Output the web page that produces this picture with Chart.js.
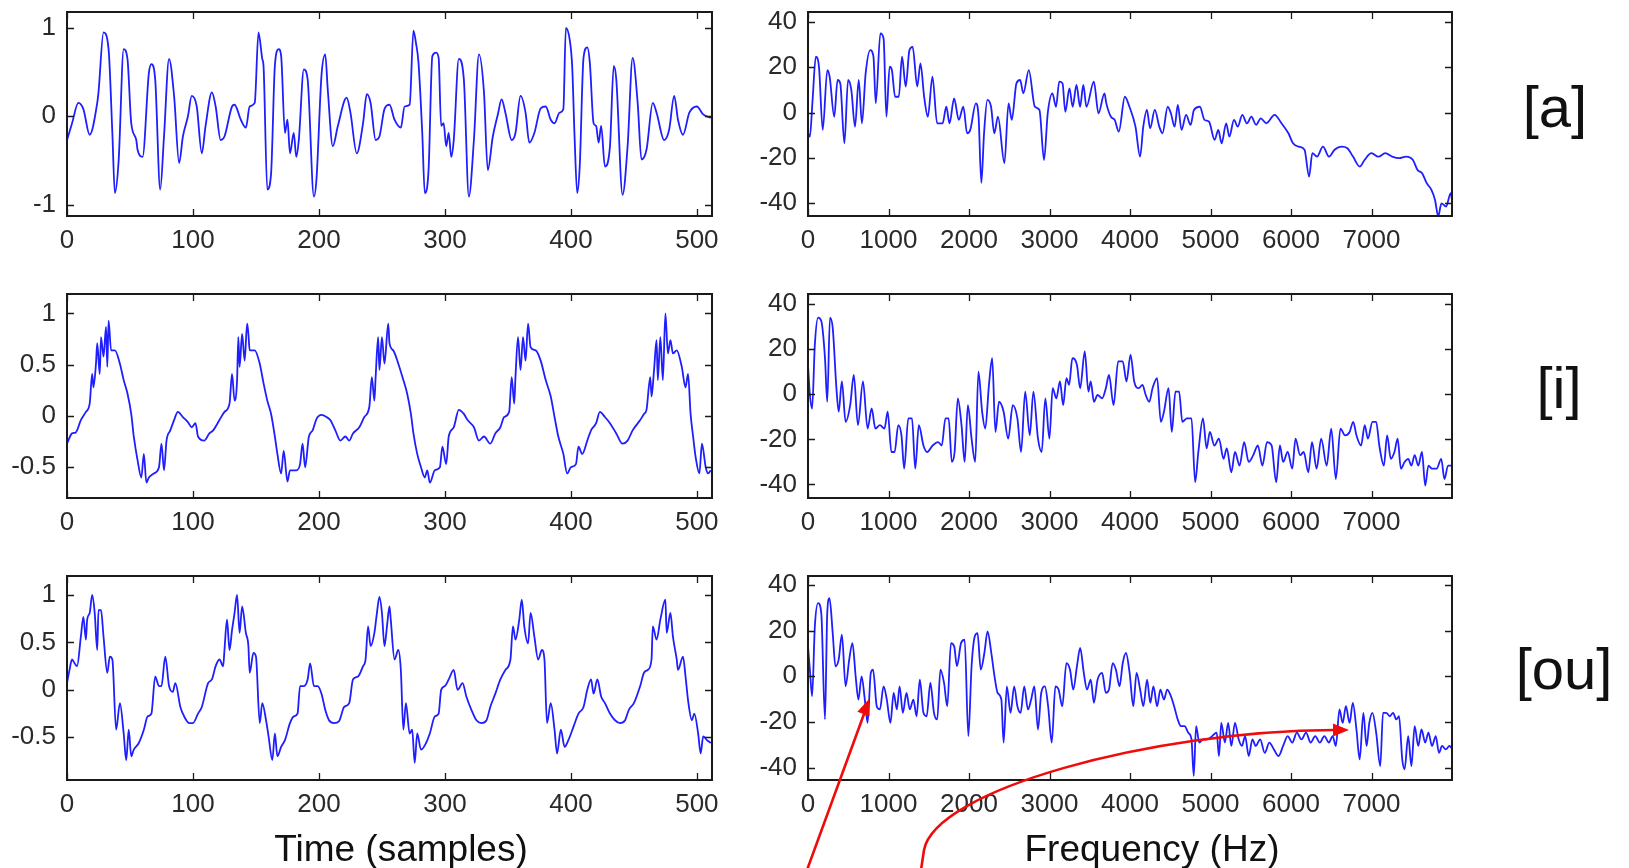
<!DOCTYPE html>
<html>
<head>
<meta charset="utf-8">
<script src="https://cdn.jsdelivr.net/npm/chart.js@4.4.1/dist/chart.umd.min.js"></script>
<style>
  body { margin: 0; background: #fff; width: 1629px; height: 868px; overflow: hidden; position: relative; font-family: "Liberation Sans", Arial, sans-serif; }
  canvas { position: absolute; }
  .lbl { position: absolute; color: #111; white-space: nowrap; transform: translateX(-50%); }
  .axt { font-size: 37px; line-height: 37px; top: 830px; }
  .vow { font-size: 58px; line-height: 58px; }
</style>
</head>
<body>
<canvas id="aWave" width="730" height="266" style="left:0;top:0"></canvas>
<canvas id="aSpec" width="730" height="266" style="left:740px;top:0"></canvas>
<canvas id="iWave" width="730" height="265" style="left:0;top:282px"></canvas>
<canvas id="iSpec" width="730" height="265" style="left:740px;top:282px"></canvas>
<canvas id="ouWave" width="730" height="304" style="left:0;top:564px"></canvas>
<canvas id="ouSpec" width="730" height="304" style="left:740px;top:564px"></canvas>
<div class="lbl axt" style="left:401px">Time (samples)</div>
<div class="lbl axt" style="left:1152px">Frequency (Hz)</div>
<div class="lbl vow" style="left:1555px;top:78px">[a]</div>
<div class="lbl vow" style="left:1559px;top:359px">[i]</div>
<div class="lbl vow" style="left:1564px;top:640px">[ou]</div>
<canvas id="arrows" width="1629" height="868" style="left:0;top:0;pointer-events:none"></canvas>
<script>
// tick values
const timeTicks = [0, 100, 200, 300, 400, 500];
const freqTicks = [0, 1000, 2000, 3000, 4000, 5000, 6000, 7000];
const dbTicks = [-40, -20, 0, 20, 40];
const unitTicks = [-1, 0, 1];
const halfTicks = [-0.5, 0, 0.5, 1];

// [a] waveform (sample, amplitude)
const aWave = [[0,-0.27],[4,-0.08],[9,0.15],[13,0.08],[18,-0.21],[24,0.15],[25,0.27],[29,0.95],[33,0.76],[36,-0.19],
  [38,-0.87],[41,-0.5],[45,0.76],[48,0.65],[51,-0.08],[55,-0.27],[56,-0.38],[60,-0.46],[65,0.49],[67,0.59],
  [70,0.42],[74,-0.83],[77,-0.23],[81,0.65],[85,0.23],[89,-0.53],[92,-0.23],[96,0],[99,0.23],[103,0.11],
  [107,-0.42],[110,-0.11],[115,0.27],[118,0.11],[122,-0.27],[125,-0.23],[131,0.11],[133,0.13],[138,-0.04],[142,-0.13],
  [145,0.11],[149,0.15],[152,0.95],[155,0.65],[156,0.57],[159,-0.83],[162,-0.65],[165,0.57],[168,0.76],[170,0.68],
  [173,-0.19],[175,-0.04],[177,-0.42],[180,-0.19],[182,-0.46],[184,-0.27],[188,0.53],[191,0.42],[196,-0.91],[198,-0.72],
  [202,0.46],[205,0.7],[207,0.3],[211,-0.34],[215,-0.11],[222,0.21],[225,0.04],[230,-0.42],[235,-0.08],[238,0.25],
  [241,0.15],[245,-0.27],[248,-0.23],[252,0.08],[256,0.13],[260,-0.04],[265,-0.13],[268,0.11],[272,0.13],[275,0.97],
  [277,0.83],[279,0.61],[282,-0.19],[284,-0.87],[287,-0.61],[290,0.68],[293,0.72],[295,0.66],[297,-0.11],[299,-0.08],
  [301,-0.34],[303,-0.19],[305,-0.46],[307,-0.27],[311,0.65],[315,0.42],[319,-0.91],[323,-0.27],[327,0.7],[331,0.27],
  [334,-0.61],[338,-0.23],[342,0.02],[345,0.19],[348,0.04],[353,-0.27],[356,-0.19],[360,0.23],[364,0.04],[367,-0.3],
  [371,-0.19],[376,0.09],[380,0.11],[384,-0.04],[387,-0.08],[391,0.04],[394,0.08],[396,1.0],[399,0.87],[401,0.57],
  [403,-0.27],[405,-0.87],[407,-0.57],[410,0.66],[413,0.78],[415,0.61],[418,-0.08],[420,-0.11],[422,-0.3],[424,-0.11],
  [427,-0.57],[431,-0.34],[434,0.57],[436,0.42],[441,-0.89],[445,-0.34],[449,0.66],[453,0.15],[456,-0.49],[460,-0.38],
  [465,0.15],[468,0.04],[474,-0.27],[478,-0.15],[482,0.23],[485,-0.04],[489,-0.21],[494,0.04],[500,0.11],[505,0.02],[511,-0.02]];

// [a] spectrum (Hz, dB)
const aSpec = [[0,-9],[23,-10.6],[57,5.6],[97,24.7],[137,20],[183,-7.6],[240,18.8],[269,15.9],[326,-1.8],[367,14.4],
  [401,12.9],[452,-13.5],[498,14.4],[538,10],[584,-6.2],[630,14.4],[670,-4.7],[716,17.3],[773,27.6],[813,24.7],
  [842,4.1],[899,35],[939,32.7],[974,-1.8],[1014,20.3],[1042,18.8],[1082,7],[1128,7],[1168,24.7],[1214,11.5],
  [1260,27.6],[1300,29],[1357,11.5],[1397,21.7],[1443,7],[1489,-1.8],[1546,15.9],[1604,-4.7],[1672,-4.7],[1718,2.6],
  [1758,-4.7],[1815,6.3],[1873,-3.2],[1930,2.6],[1976,-9.1],[2016,-7.6],[2085,4.1],[2119,-1.8],[2153,-31],[2187,-9.1],
  [2228,5.6],[2274,2.6],[2314,-9.1],[2360,-1.8],[2440,-22.3],[2491,4.1],[2532,-3.2],[2589,12.9],[2635,14.4],[2675,8.5],
  [2743,18.8],[2818,2.6],[2875,1.2],[2932,-20.9],[2978,-0.3],[3036,8.5],[3081,2.6],[3121,13.7],[3162,12.9],[3196,0.4],
  [3248,10.7],[3288,2.6],[3335,12.2],[3380,2.6],[3420,12.2],[3459,2.6],[3551,13.7],[3608,-0.3],[3683,8.5],[3706,4.1],
  [3763,-1.8],[3810,-3.2],[3861,-8.4],[3936,7],[3993,2.6],[4068,-6.2],[4125,-19.4],[4165,-6.2],[4210,1.2],[4250,-6.9],
  [4308,1.2],[4364,-6.2],[4404,-9.1],[4468,2.6],[4508,-0.3],[4554,-6.2],[4594,3.4],[4640,-7.6],[4697,-1],[4753,-5.4],
  [4794,1.2],[4868,2.6],[4925,-3.2],[4982,-4],[5051,-12],[5097,-7.6],[5138,-13.5],[5195,-4.7],[5234,-10.6],[5292,-3.2],
  [5338,-6.2],[5395,-1],[5452,-4.7],[5508,-1.8],[5566,-5.4],[5624,-2.5],[5693,-4.7],[5796,-1],[5882,-4.7],[5968,-9.1],
  [6025,-13.5],[6094,-15],[6168,-16.4],[6225,-28.2],[6265,-17.9],[6323,-19.4],[6397,-15],[6472,-19.4],[6541,-16.4],[6627,-15],
  [6701,-15.7],[6770,-19.4],[6856,-23.8],[6913,-20.9],[7000,-17.9],[7085,-19.4],[7171,-17.9],[7257,-19.4],[7343,-20.1],[7429,-19.4],
  [7515,-20.9],[7572,-25.3],[7629,-26.7],[7686,-31.1],[7743,-34],[7789,-38.5],[7829,-45.8],[7869,-40],[7927,-41.4],[7984,-35.5],[8000,-38.5]];

// [i] waveform
const iWave = [[0,-0.27],[4,-0.17],[7,-0.16],[11,-0.04],[15,0.04],[18,0.12],[20,0.41],[21,0.28],[23,0.51],[24,0.71],
  [26,0.41],[27,0.77],[29,0.58],[31,0.87],[32,0.48],[33,0.93],[35,0.64],[38,0.64],[42,0.51],[45,0.35],
  [48,0.22],[51,0.02],[53,-0.2],[56,-0.43],[59,-0.6],[61,-0.37],[63,-0.65],[65,-0.6],[69,-0.56],[73,-0.5],
  [75,-0.27],[77,-0.53],[79,-0.24],[82,-0.14],[85,-0.04],[88,0.04],[92,-0.01],[96,-0.06],[99,-0.11],[102,-0.07],
  [104,-0.2],[109,-0.24],[113,-0.17],[116,-0.14],[121,-0.04],[125,0.04],[129,0.12],[131,0.41],[133,0.15],[135,0.35],
  [136,0.77],[137,0.48],[139,0.8],[141,0.54],[143,0.9],[144,0.8],[145,0.64],[149,0.64],[153,0.51],[156,0.32],
  [159,0.15],[162,0.02],[165,-0.2],[167,-0.37],[170,-0.56],[172,-0.34],[175,-0.64],[177,-0.53],[182,-0.53],[185,-0.47],
  [187,-0.27],[189,-0.5],[192,-0.2],[195,-0.14],[198,-0.03],[202,0.01],[206,-0.01],[209,-0.04],[213,-0.14],[217,-0.24],
  [221,-0.2],[224,-0.24],[227,-0.17],[232,-0.11],[236,-0.01],[240,0.09],[242,0.38],[244,0.15],[245,0.38],[247,0.77],
  [248,0.45],[250,0.77],[252,0.51],[255,0.9],[256,0.71],[259,0.64],[263,0.51],[267,0.35],[270,0.22],[273,0.02],
  [275,-0.17],[278,-0.37],[281,-0.5],[284,-0.6],[286,-0.53],[288,-0.65],[292,-0.53],[296,-0.5],[298,-0.3],[301,-0.47],
  [303,-0.2],[307,-0.11],[311,0.06],[315,0.02],[318,-0.04],[323,-0.11],[327,-0.24],[331,-0.2],[336,-0.27],[340,-0.17],
  [344,-0.11],[347,-0.01],[351,0.04],[353,0.38],[355,0.12],[356,0.38],[358,0.77],[360,0.45],[362,0.77],[364,0.54],
  [366,0.9],[368,0.67],[372,0.64],[376,0.54],[380,0.35],[384,0.19],[387,-0.01],[390,-0.2],[394,-0.37],[397,-0.56],
  [400,-0.5],[404,-0.47],[406,-0.3],[409,-0.37],[413,-0.24],[416,-0.14],[420,-0.07],[423,0.04],[427,-0.01],[431,-0.07],
  [436,-0.17],[441,-0.27],[445,-0.24],[449,-0.14],[455,-0.04],[458,0.02],[460,0.06],[463,0.38],[464,0.19],[466,0.45],
  [468,0.74],[469,0.35],[471,0.77],[473,0.35],[475,1.0],[477,0.61],[479,0.74],[481,0.61],[484,0.64],[488,0.48],
  [491,0.28],[493,0.41],[495,0.02],[497,-0.2],[499,-0.4],[502,-0.56],[504,-0.27],[507,-0.5],[509,-0.56],[511,-0.53]];

// [i] spectrum
const iSpec = [[0,13],[23,0],[51,-6.3],[85,22],[125,34],[165,32.5],[211,16],[239,-3.3],[273,34],[307,29.5],
  [353,2.7],[381,-7.7],[421,5.7],[467,-12.2],[524,-4.8],[569,8.6],[620,-13.7],[683,5.7],[740,-15.2],[791,-6.3],
  [837,-15.2],[893,-13.7],[950,-15.2],[990,-7.7],[1036,-25.6],[1076,-25.6],[1121,-13.7],[1161,-18.2],[1195,-33],[1246,-10.7],
  [1292,-10.7],[1332,-33],[1377,-13.7],[1434,-22.7],[1480,-25.6],[1548,-22.7],[1616,-21.2],[1662,-22.7],[1707,-10.7],[1747,-10.7],
  [1787,-30],[1821,-25.6],[1861,-1.8],[1907,-13.7],[1946,-30],[1986,-4.8],[2032,-19.7],[2077,-30],[2117,10.1],[2163,-7.7],
  [2202,-15.2],[2248,4.2],[2288,16],[2328,-16.7],[2373,-3.3],[2430,-7.7],[2487,-19.7],[2544,-4.8],[2601,-10.7],[2647,-25.6],
  [2698,1.2],[2755,-18.2],[2800,1.2],[2857,-19.7],[2903,-25.6],[2948,-1.8],[2999,-19.7],[3039,2.7],[3085,-1.8],[3130,5.7],
  [3170,-4.8],[3210,7.2],[3244,4.2],[3284,16],[3341,13],[3381,2.7],[3438,19],[3483,1.2],[3512,5.7],[3552,-3.3],
  [3597,-0.3],[3654,-1.8],[3700,2.7],[3739,8.6],[3796,-4.8],[3853,14.6],[3910,14.6],[3956,5.7],[4007,17.6],[4052,5.7],
  [4109,2.7],[4155,4.2],[4195,-0.3],[4240,-3.3],[4280,2.7],[4337,7.2],[4383,-12.2],[4422,-7.7],[4479,2.7],[4519,-16.7],
  [4565,1.2],[4610,1.2],[4650,-12.2],[4707,-10.7],[4764,-10.7],[4809,-39],[4849,-25.6],[4906,-10.7],[4952,-24],[4992,-16.7],
  [5048,-22.7],[5105,-19.7],[5162,-28.6],[5202,-24],[5259,-34.6],[5304,-25.6],[5361,-31.6],[5418,-21.2],[5475,-30],[5531,-27],
  [5588,-22.7],[5645,-31.6],[5702,-21.2],[5759,-22.7],[5816,-39],[5862,-22.7],[5902,-30],[5959,-25.6],[6016,-33],[6056,-19.7],
  [6113,-27],[6158,-25.6],[6215,-34.6],[6261,-21.2],[6318,-33],[6375,-19.7],[6443,-31.6],[6500,-15.2],[6557,-37.6],[6614,-15.2],
  [6671,-18.2],[6728,-16.7],[6773,-12.2],[6813,-18.2],[6870,-22.7],[6916,-13.7],[6955,-19.7],[7012,-12.2],[7058,-12.2],[7097,-22.7],
  [7154,-31.6],[7194,-18.2],[7240,-28.6],[7285,-25.6],[7325,-19.7],[7365,-33],[7411,-30],[7456,-28.6],[7496,-31.6],[7536,-27],
  [7581,-31.6],[7627,-25.6],[7667,-40.5],[7707,-31.6],[7752,-33],[7809,-33],[7866,-28.6],[7906,-37.6],[7951,-31.6],[7991,-31.6]];

// [ou] waveform
const ouWave = [[0,0.07],[2,0.21],[4,0.32],[6,0.28],[8,0.25],[11,0.56],[13,0.77],[15,0.53],[16,0.74],[18,0.81],
  [20,1.0],[22,0.81],[24,0.42],[25,0.84],[27,0.84],[29,0.56],[32,0.18],[34,0.35],[36,0.32],[39,-0.42],
  [42,-0.14],[45,-0.46],[47,-0.74],[49,-0.42],[51,-0.7],[53,-0.63],[57,-0.56],[61,-0.42],[64,-0.28],[67,-0.25],
  [70,0.14],[73,0.04],[75,0.04],[78,0.35],[81,0.04],[84,-0.02],[86,0.07],[90,-0.18],[93,-0.28],[97,-0.35],
  [100,-0.35],[104,-0.25],[107,-0.18],[112,0.07],[115,0.11],[118,0.25],[121,0.32],[124,0.25],[125,0.42],[127,0.74],
  [129,0.42],[131,0.63],[133,0.81],[135,1.0],[137,0.6],[139,0.88],[142,0.6],[144,0.46],[145,0.18],[148,0.39],
  [150,0.35],[153,-0.35],[155,-0.14],[158,-0.32],[160,-0.49],[163,-0.74],[165,-0.46],[167,-0.7],[170,-0.6],[173,-0.53],
  [177,-0.35],[180,-0.28],[183,-0.25],[185,0.04],[188,0.04],[191,0.11],[193,0.28],[196,0.04],[199,0.04],[202,-0.04],
  [205,-0.21],[208,-0.32],[212,-0.35],[216,-0.33],[220,-0.18],[224,-0.14],[227,0.11],[231,0.14],[235,0.25],[237,0.32],
  [239,0.67],[241,0.46],[244,0.6],[246,0.81],[248,0.98],[250,0.81],[252,0.46],[254,0.67],[256,0.88],[257,0.74],
  [260,0.32],[263,0.42],[265,0.21],[267,-0.42],[269,-0.14],[272,-0.46],[274,-0.42],[276,-0.77],[278,-0.46],[281,-0.63],
  [285,-0.56],[288,-0.46],[292,-0.28],[295,-0.25],[297,0],[300,0.04],[303,0.11],[307,0.21],[310,0],[314,0.07],
  [317,-0.07],[321,-0.21],[325,-0.32],[329,-0.35],[333,-0.32],[336,-0.18],[340,-0.04],[344,0.11],[348,0.21],[352,0.32],
  [354,0.67],[356,0.53],[359,0.74],[361,0.95],[363,0.67],[366,0.49],[368,0.81],[371,0.56],[374,0.32],[377,0.42],
  [379,0.32],[381,-0.35],[384,-0.14],[387,-0.42],[389,-0.67],[392,-0.42],[395,-0.6],[398,-0.53],[402,-0.39],[406,-0.25],
  [410,-0.18],[413,0],[416,0.11],[418,-0.04],[421,0.11],[424,-0.07],[427,-0.14],[431,-0.25],[435,-0.32],[439,-0.35],
  [443,-0.32],[446,-0.21],[450,-0.14],[455,0.04],[458,0.18],[461,0.21],[464,0.32],[465,0.67],[468,0.53],[471,0.74],
  [475,0.95],[476,0.6],[479,0.81],[481,0.56],[484,0.32],[485,0.21],[489,0.35],[491,0.14],[493,-0.11],[496,-0.32],
  [498,-0.25],[501,-0.46],[503,-0.67],[505,-0.49],[508,-0.53],[511,-0.56]];

// [ou] spectrum
const ouSpec = [[0,13],[23,2.9],[51,-8.7],[85,21.8],[125,32],[165,27.6],[211,-18.9],[239,27.6],[267,34.2],[307,18.9],
  [341,4.4],[381,7.3],[421,18.2],[467,-4.4],[512,7.3],[552,14.5],[592,0],[626,-10.2],[666,0],[706,-10.2],
  [740,-20.4],[780,1.5],[808,2.9],[854,-13.1],[893,-14.5],[939,-4.4],[979,-10.2],[1024,-20.4],[1064,-7.3],[1104,-14.5],
  [1138,-4.4],[1178,-16],[1224,-7.3],[1264,-14.5],[1309,-10.2],[1349,-17.5],[1389,-1.5],[1434,-16],[1474,-17.5],[1520,-2.9],
  [1565,-16],[1605,-18.9],[1645,2.9],[1690,-2.9],[1730,-13.1],[1776,14.5],[1816,13.1],[1850,4.4],[1901,14.5],[1946,16],
  [1992,-26.2],[2032,4.4],[2072,17.5],[2106,18.9],[2146,2.9],[2191,10.2],[2231,19.6],[2277,10.2],[2317,0],[2356,-7.3],
  [2402,-10.2],[2430,-29],[2470,-4.4],[2516,-16],[2561,-4.4],[2601,-13.1],[2641,-16],[2686,-4.4],[2732,-14.5],[2772,-10.2],
  [2812,-4.4],[2857,-23.3],[2897,-7.3],[2943,-4.4],[2983,-13.1],[3028,-29],[3073,-4.4],[3113,-5.8],[3159,-13.1],[3210,5.8],
  [3255,2.9],[3295,-5.8],[3341,4.4],[3381,12.4],[3426,1.5],[3466,-5.8],[3512,-1.5],[3552,-11.6],[3597,-1.5],[3654,1.5],
  [3700,-7.3],[3739,-5.8],[3785,5.8],[3825,2.9],[3870,-4.4],[3910,5.8],[3950,10.2],[3995,1.5],[4041,-13.1],[4081,1.5],
  [4126,-5.8],[4166,-13.1],[4212,-1.5],[4252,-11.6],[4291,-4.4],[4337,-13.1],[4377,-5.8],[4422,-10.2],[4462,-5.8],[4508,-8.7],
  [4548,-13.1],[4593,-18.9],[4633,-21.8],[4678,-21.8],[4724,-24.7],[4764,-27.6],[4792,-43.6],[4821,-21.8],[4861,-29],[4906,-27.6],
  [4963,-27.6],[5020,-26.2],[5077,-24.7],[5105,-34.9],[5134,-20.4],[5179,-29],[5219,-20.4],[5259,-30.5],[5304,-20.4],[5350,-27.6],
  [5390,-30.5],[5430,-26.2],[5475,-34.9],[5521,-27.6],[5561,-30.5],[5617,-27.6],[5674,-33.5],[5731,-29],[5788,-32],[5845,-34.9],
  [5902,-30.5],[5959,-26.2],[6016,-29],[6073,-24.7],[6130,-27.6],[6187,-24.7],[6244,-29],[6301,-26.2],[6358,-29],[6414,-26.2],
  [6471,-29],[6517,-26.2],[6557,-30.5],[6602,-14.5],[6642,-20.4],[6682,-13.1],[6728,-20.4],[6768,-11.6],[6813,-23.3],[6853,-36.4],
  [6899,-16],[6939,-30.5],[6973,-20.4],[7012,-16],[7058,-24.7],[7109,-39.3],[7143,-16],[7183,-16],[7228,-17.5],[7268,-16],
  [7308,-18.9],[7342,-17.5],[7382,-36.4],[7411,-40.7],[7456,-26.2],[7496,-39.3],[7536,-21.8],[7581,-30.5],[7621,-23.3],[7667,-29],
  [7707,-24.7],[7752,-30.5],[7798,-26.2],[7838,-33.5],[7877,-30.5],[7923,-32],[7968,-30.5],[7991,-31.3]];

// draws the matlab style box with inward ticks on all four sides
const frameBox = {
  id: 'frameBox',
  afterDraw(chart) {
    const {ctx, chartArea: a, scales: {x, y}} = chart;
    ctx.save();
    ctx.strokeStyle = '#1a1a1a';
    ctx.lineWidth = 2;
    ctx.strokeRect(a.left, a.top, a.right - a.left, a.bottom - a.top);
    ctx.lineWidth = 1.3;
    ctx.beginPath();
    x.ticks.forEach(t => {
      const px = Math.round(x.getPixelForValue(t.value)) + 0.5;
      ctx.moveTo(px, a.bottom); ctx.lineTo(px, a.bottom - 7);
      ctx.moveTo(px, a.top); ctx.lineTo(px, a.top + 7);
    });
    y.ticks.forEach(t => {
      const py = Math.round(y.getPixelForValue(t.value)) + 0.5;
      ctx.moveTo(a.left, py); ctx.lineTo(a.left + 7, py);
      ctx.moveTo(a.right, py); ctx.lineTo(a.right - 7, py);
    });
    ctx.stroke();
    ctx.restore();
  }
};

const tickFont = { family: "'Liberation Sans', Arial, sans-serif", size: 26 };

function makePanel(id, points, xMax, xTicks, yMin, yMax, yTicks, yWidth) {
  const canvas = document.getElementById(id);
  const boxH = 204;
  const padTop = 12;
  new Chart(canvas, {
    type: 'line',
    data: {
      datasets: [{
        data: points.map(p => ({ x: p[0], y: p[1] })),
        borderColor: 'rgb(30,30,255)',
        borderWidth: 1.8,
        pointRadius: 0,
        cubicInterpolationMode: 'monotone'
      }]
    },
    options: {
      responsive: false,
      animation: false,
      events: [],
      layout: { padding: { top: padTop, right: 18, left: 0, bottom: 0 } },
      plugins: { legend: { display: false }, tooltip: { enabled: false } },
      scales: {
        x: {
          type: 'linear', min: 0, max: xMax,
          afterBuildTicks: s => { s.ticks = xTicks.map(v => ({ value: v })); },
          afterFit: s => {
            s.height = canvas.height - padTop - boxH;
            s.paddingLeft = 0; s.paddingRight = 0;
          },
          grid: { display: false, drawTicks: false },
          border: { display: false },
          ticks: { font: tickFont, color: '#2a2a2a', padding: 9, maxRotation: 0, autoSkip: false, callback: v => String(v) }
        },
        y: {
          type: 'linear', min: yMin, max: yMax,
          afterBuildTicks: s => { s.ticks = yTicks.map(v => ({ value: v })); },
          afterFit: s => {
            s.width = yWidth;
            s.paddingTop = 0; s.paddingBottom = 0;
          },
          grid: { display: false, drawTicks: false },
          border: { display: false },
          ticks: { font: tickFont, color: '#2a2a2a', padding: 11, autoSkip: false, callback: v => String(v) }
        }
      }
    },
    plugins: [frameBox]
  });
}

makePanel('aWave', aWave, 512, timeTicks, -1.13, 1.18, unitTicks, 67);
makePanel('aSpec', aSpec, 8000, freqTicks, -45.6, 44.4, dbTicks, 68);
makePanel('iWave', iWave, 512, timeTicks, -0.8, 1.19, halfTicks, 67);
makePanel('iSpec', iSpec, 8000, freqTicks, -46, 44.5, dbTicks, 68);
makePanel('ouWave', ouWave, 512, timeTicks, -0.95, 1.2, halfTicks, 67);
makePanel('ouSpec', ouSpec, 8000, freqTicks, -45.4, 43.9, dbTicks, 68);

// red annotation arrows
const g = document.getElementById('arrows').getContext('2d');
g.strokeStyle = 'rgb(240,10,10)';
g.fillStyle = 'rgb(240,10,10)';
g.lineWidth = 2.6;
g.lineCap = 'round';

function arrowHead(tx, ty, dx, dy) {
  const len = Math.hypot(dx, dy);
  const ux = dx / len, uy = dy / len;
  const bx = tx - ux * 16, by = ty - uy * 16;
  g.beginPath();
  g.moveTo(tx, ty);
  g.lineTo(bx - uy * 6.5, by + ux * 6.5);
  g.lineTo(bx + uy * 6.5, by - ux * 6.5);
  g.closePath();
  g.fill();
}

// straight arrow
g.beginPath();
g.moveTo(807, 870);
g.lineTo(864, 714);
g.stroke();
arrowHead(869, 699, 62, -169);

// curved arrow
g.beginPath();
g.moveTo(921, 870);
g.lineTo(924, 850);
g.bezierCurveTo(935, 790, 1150, 731, 1334, 730);
g.stroke();
arrowHead(1349, 730, 1, 0);
</script>
</body>
</html>
